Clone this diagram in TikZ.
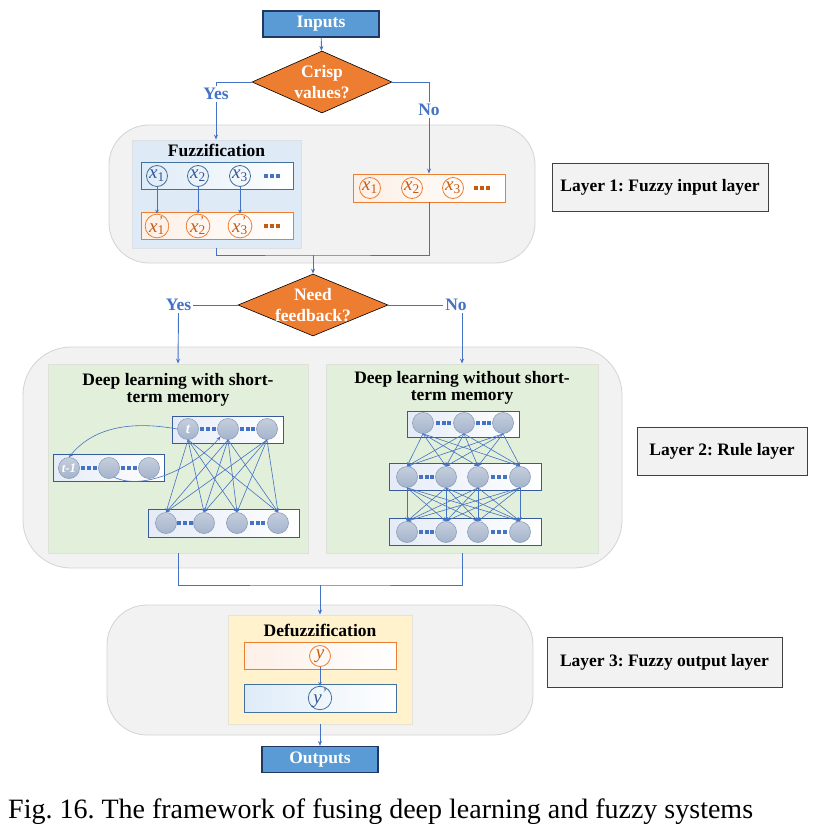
\documentclass[tikz,border=0pt]{standalone}
\usepackage{fontspec}
\setmainfont{Liberation Serif}
\usetikzlibrary{shapes.geometric,arrows.meta}
\frenchspacing

\definecolor{flow}{HTML}{4472C4}
\definecolor{layerbg}{HTML}{F2F2F2}
\definecolor{layerln}{HTML}{D3D3D3}
\definecolor{iofill}{HTML}{5B9BD5}
\definecolor{ioline}{HTML}{1F3864}
\definecolor{decision}{HTML}{ED7D31}
\definecolor{fuzzbg}{HTML}{DEEBF7}
\definecolor{rulebg}{HTML}{E2EFDA}
\definecolor{defuzzbg}{HTML}{FFF2CC}
\definecolor{crispln}{HTML}{41719C}
\definecolor{crisptx}{HTML}{2F5597}
\definecolor{fuzzyln}{HTML}{ED7D31}
\definecolor{fuzzytx}{HTML}{C55A11}
\definecolor{neuron}{HTML}{A5B4CB}
\definecolor{neuronln}{HTML}{8C9DB8}

\newcommand{\sqdots}{\rule{4pt}{4pt}\kern1.6pt\rule{4pt}{4pt}\kern1.6pt\rule{4pt}{4pt}}
\newcommand{\xv}[1]{\textit{x}\textsubscript{#1}}
\newcommand{\xf}[1]{\textit{x}\rlap{\textsuperscript{\kern0.5pt\textit{'}}}\textsubscript{#1}}

\begin{document}
\begin{tikzpicture}[x=1pt, y=-1pt,
    every node/.style={inner sep=0pt, font=\bfseries\fontsize{17.5}{20}\selectfont},
    layer/.style={draw=layerln, fill=layerbg, line width=0.8pt, rounded corners=#1},
    panel/.style={draw=#1!75!black!40, fill=#1, line width=0.8pt},
    io/.style={draw=ioline, fill=iofill, line width=1.2pt, text=white, minimum width=116, minimum height=26},
    decide/.style={diamond, draw=black, fill=decision, line width=0.6pt},
    decidetx/.style={text=white, align=center, font=\bfseries\fontsize{17.5}{21}\selectfont},
    answer/.style={text=flow, inner sep=2pt},
    layerlabel/.style={draw=black!75, fill=layerbg, line width=0.9pt},
    crisprow/.style={draw=crispln, left color=fuzzbg, right color=white, line width=0.9pt},
    fuzzyrow/.style={draw=fuzzyln, left color=decision!12, right color=white, line width=0.9pt},
    netrow/.style={draw=flow!80!black, left color=flow!14, right color=white, line width=0.9pt},
    xcirc/.style={circle, draw=#1, line width=0.8pt, minimum size=21, font=\fontsize{19}{19}\selectfont},
    neu/.style={circle, draw=neuronln, top color=neuron!65, bottom color=neuron, line width=0.6pt,
        minimum size=21, text=white, font=\bfseries\itshape\fontsize{15}{15}\selectfont},
    flowline/.style={draw=flow, line width=0.9pt},
    arr/.style={flowline, -{Stealth[length=5pt,width=4pt]}},
    netarr/.style={draw=flow, line width=0.6pt, -{Stealth[length=4pt,width=3.5pt]}}]
\useasboundingbox (0,0) rectangle (819,830);

% layers
\node[layer=40pt, minimum width=426, minimum height=138] (layer1) at (322,194) {};
\node[layer=48pt, minimum width=599, minimum height=221] (layer2) at (322.5,457.5) {};
\node[layer=40pt, minimum width=426, minimum height=130] (layer3) at (320,670) {};

\node[layerlabel, minimum width=216, minimum height=48] (lab1) at (660,187) {Layer 1: Fuzzy input layer};
\node[layerlabel, minimum width=170, minimum height=48] (lab2) at (722,451) {Layer 2: Rule layer};
\node[layerlabel, minimum width=235, minimum height=50] (lab3) at (664.5,662) {Layer 3: Fuzzy output layer};

% inputs and first decision
\node[io] (inputs) at (321,24) {Inputs};
\node[decide, minimum width=140, minimum height=62] (crisp) at (322,82) {};
\node[decidetx] (crisptx) at (crisp) {Crisp\\values?};
\node[answer] (yes1) at (216,94) {Yes};
\node[answer] (no1) at (429,110) {No};

% fuzzification
\node[panel=fuzzbg, minimum width=169, minimum height=108] (fuzz) at (216.5,194) {};
\node (fuzztitle) at (216.5,150) {Fuzzification};
\node[crisprow, minimum width=152, minimum height=27] (crow) at (217,175.5) {};
\node[fuzzyrow, minimum width=152, minimum height=27] (frow) at (217,225.5) {};
\node[xcirc=crispln, text=crisptx] (cx1) at (157,176) {\xv{1}};
\node[xcirc=crispln, text=crisptx] (cx2) at (198,176) {\xv{2}};
\node[xcirc=crispln, text=crisptx] (cx3) at (240,176) {\xv{3}};
\node[text=flow] (cdots) at (272,176) {\sqdots};
\node[xcirc=fuzzyln, text=fuzzytx] (fx1) at (157,226) {\xf{1}};
\node[xcirc=fuzzyln, text=fuzzytx] (fx2) at (198,226) {\xf{2}};
\node[xcirc=fuzzyln, text=fuzzytx] (fx3) at (240,226) {\xf{3}};
\node[text=fuzzytx] (fdots) at (272,226) {\sqdots};
\foreach \i in {1,2,3}
    \draw[netarr] (cx\i.south) -- (fx\i.north);

% already fuzzy inputs
\node[fuzzyrow, minimum width=152, minimum height=28] (drow) at (429,188) {};
\node[xcirc=fuzzyln, text=fuzzytx] (dx1) at (370,188) {\xv{1}};
\node[xcirc=fuzzyln, text=fuzzytx] (dx2) at (412,188) {\xv{2}};
\node[xcirc=fuzzyln, text=fuzzytx] (dx3) at (453,188) {\xv{3}};
\node[text=fuzzytx] (ddots) at (482,188) {\sqdots};

\coordinate (join1) at (313,255);
\draw[arr] (inputs) -- (crisp);
\draw[flowline] (crisp.west) -| (yes1.north);
\draw[arr] (yes1.south) -- (yes1.south |- fuzz.north);
\draw[flowline] (crisp.east) -| (no1.north);
\draw[arr] (no1.south) -- (no1.south |- drow.north);
\draw[flowline] (fuzz.south) |- (join1) -| (drow.south);

% second decision
\node[decide, minimum width=150, minimum height=62] (need) at (313,305) {};
\node[decidetx] (needtx) at (need) {Need\\feedback?};
\node[answer] (yes2) at (178.5,305) {Yes};
\node[answer] (no2) at (456,305) {No};
\draw[arr] (join1) -- (need.north);
\draw[flowline] (need.west) -- (yes2.east);
\draw[flowline] (need.east) -- (no2.west);

% deep learning with short-term memory
\node[panel=rulebg, minimum width=260, minimum height=189] (dla) at (178,458.5) {};
\node[align=center, font=\bfseries\fontsize{17.5}{16.5}\selectfont] (dlatitle) at (178,390) {Deep learning with short-\\term memory};
\node[netrow, minimum width=111, minimum height=27] (atop) at (227.5,429.5) {};
\node[netrow, minimum width=111, minimum height=27] (aprev) at (108.5,467.5) {};
\node[netrow, minimum width=151, minimum height=28] (abot) at (223.5,523) {};
\node[neu] (t) at (188,429) {t};
\node[neu] (a2) at (228,429) {};
\node[neu] (a3) at (267,429) {};
\node[text=flow] (ad1) at (208,429) {\sqdots};
\node[text=flow] (ad2) at (247.5,429) {\sqdots};
\node[neu, font=\bfseries\itshape\fontsize{13}{13}\selectfont] (tm) at (69,468) {t-1};
\node[neu] (p2) at (109,468) {};
\node[neu] (p3) at (149,468) {};
\node[text=flow] (pd1) at (89,468) {\sqdots};
\node[text=flow] (pd2) at (129,468) {\sqdots};
\node[neu] (b1) at (166,523) {};
\node[neu] (b2) at (204,523) {};
\node[neu] (b3) at (237,523) {};
\node[neu] (b4) at (278,523) {};
\node[text=flow] (bd1) at (185,523) {\sqdots};
\node[text=flow] (bd2) at (257.5,523) {\sqdots};
\foreach \s in {t,a2,a3}
    \foreach \d in {b1,b2,b3,b4}
        \draw[netarr] (\s.south) -- (\d.north);
\draw[netarr] (t.west) .. controls +(-55,-10) and +(20,-25) .. (tm.north);
\draw[netarr] (p2.-60) .. controls +(30,14) and +(-25,30) .. (a2.-135);

% deep learning without short-term memory
\node[panel=rulebg, minimum width=272, minimum height=189] (dlb) at (462,458.5) {};
\node[align=center, font=\bfseries\fontsize{17.5}{16.5}\selectfont] (dlbtitle) at (462,388) {Deep learning without short-\\term memory};
\node[netrow, minimum width=112, minimum height=26] (btop) at (463,424) {};
\node[netrow, minimum width=152, minimum height=27] (bmid) at (465,476.5) {};
\node[netrow, minimum width=152, minimum height=27] (bbot) at (465,531.5) {};
\node[neu] (r1) at (423,423) {};
\node[neu] (r2) at (464,423) {};
\node[neu] (r3) at (503,423) {};
\node[text=flow] (rd1) at (443.5,423) {\sqdots};
\node[text=flow] (rd2) at (483.5,423) {\sqdots};
\foreach \n/\xx in {1/407,2/446,3/478,4/520} {
    \node[neu] (m\n) at (\xx,477) {};
    \node[neu] (o\n) at (\xx,532) {};
}
\node[text=flow] (md1) at (426.5,477) {\sqdots};
\node[text=flow] (md2) at (499,477) {\sqdots};
\node[text=flow] (od1) at (426.5,532) {\sqdots};
\node[text=flow] (od2) at (499,532) {\sqdots};
\foreach \s in {r1,r2,r3}
    \foreach \d in {m1,m2,m3,m4}
        \draw[netarr] (\s.south) -- (\d.north);
\foreach \s in {m1,m2,m3,m4}
    \foreach \d in {o1,o2,o3,o4}
        \draw[netarr] (\s.south) -- (\d.north);

\draw[arr] (no2.south -| dlb.north) -- (dlb.north);
\draw[arr] (yes2.south) -- (dla.north);

% defuzzification
\coordinate (join2) at (320,585);
\node[panel=defuzzbg, minimum width=184, minimum height=109] (defuzz) at (320,669.5) {};
\node (deftitle) at (320,630) {Defuzzification};
\node[fuzzyrow, minimum width=152, minimum height=27] (yrow) at (320,655.5) {};
\node[crisprow, minimum width=152, minimum height=28] (yprow) at (320,698) {};
\node[xcirc=fuzzyln, text=fuzzytx] (yout) at (320,656) {\textit{y}};
\node[xcirc=crispln, text=crisptx] (ypout) at (320,698) {\textit{y}\textsuperscript{\textit{'}}};
\node[io] (outputs) at (320,759.5) {Outputs};

\draw[flowline] (dla.south) |- (join2) -| (dlb.south);
\draw[arr] (join2) -- (defuzz.north);
\draw[netarr] (yout.south) -- (ypout.north);
\draw[arr] (defuzz.south) -- (outputs.north);

\node[anchor=base west, font=\fontsize{28}{30}\selectfont] (caption) at (8,818)
    {Fig. 16. The framework of fusing deep learning and fuzzy systems};
\end{tikzpicture}
\end{document}
